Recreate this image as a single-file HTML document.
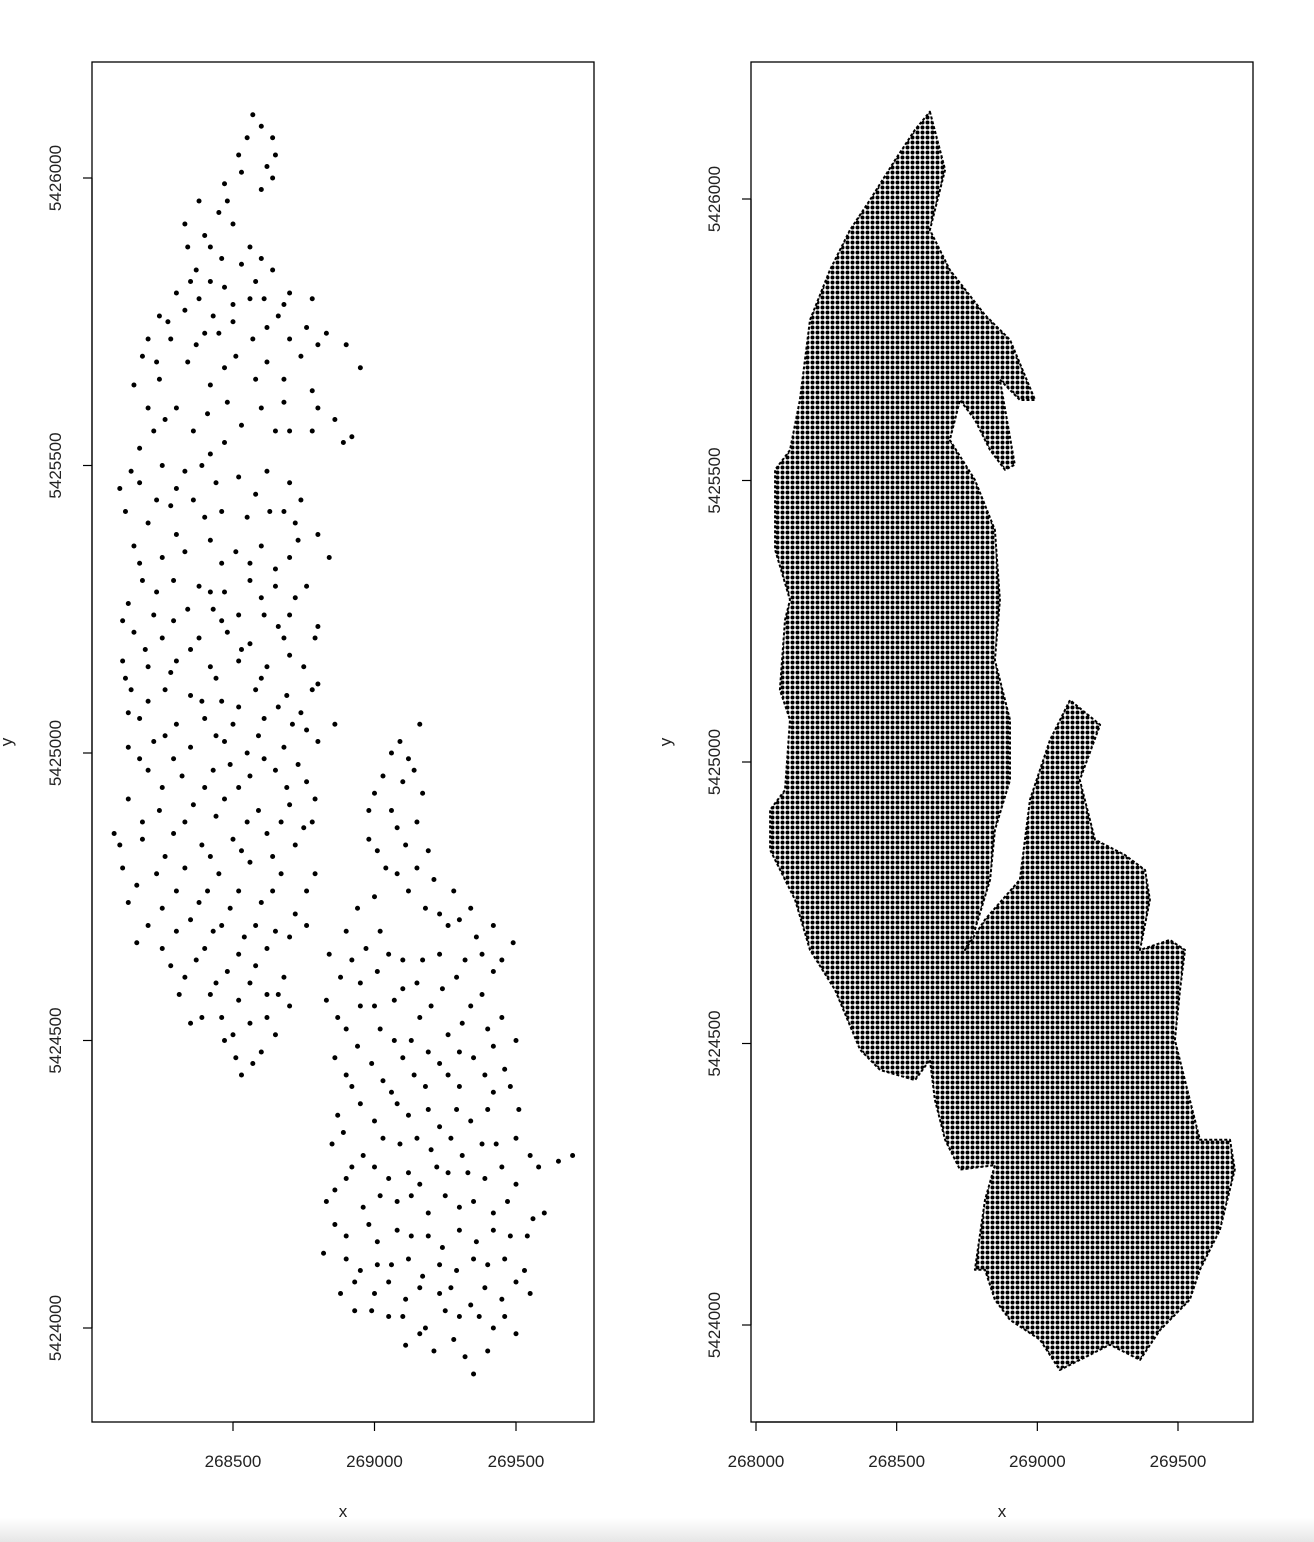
<!DOCTYPE html>
<html><head><meta charset="utf-8"><style>
html,body{margin:0;padding:0;background:#fff}
svg{display:block}
text{font-family:"Liberation Sans",sans-serif;font-size:17px;fill:#222}
</style></head><body>
<svg id="chart" width="1314" height="1542" viewBox="0 0 1314 1542">
<defs>
<pattern id="dots" width="5" height="5" patternUnits="userSpaceOnUse"><circle cx="2.5" cy="2.5" r="2" fill="#000"/></pattern>
<linearGradient id="bar" x1="0" y1="0" x2="0" y2="1"><stop offset="0" stop-color="#fff"/><stop offset="1" stop-color="#e6e6e6"/></linearGradient>
</defs>
<rect x="0" y="1518" width="1314" height="24" fill="url(#bar)"/>
<g id="left"></g>
<g id="right"></g>
</svg>
<script>
const leftXTicks=[268500,269000,269500];
const leftYTicks=[5424000,5424500,5425000,5425500,5426000];
const rightXTicks=[268000,268500,269000,269500];
const rightYTicks=[5424000,5424500,5425000,5425500,5426000];
const leftX=[268570,268600,268640,268650,268520,268530,268640,268470,268600,268380,268450,268500,268330,268420,268340,268460,268530,268370,268640,268420,268580,268300,268380,268470,268560,268610,268700,268780,268240,268330,268430,268500,268660,268760,268830,268200,268280,268370,268450,268570,268700,268900,268180,268340,268510,268620,268740,268950,268150,268240,268420,268580,268680,268780,268200,268300,268480,268600,268800,268860,268220,268360,268530,268700,268890,
268100,268170,268250,268330,268390,268420,268520,268620,268700,268740,268120,268200,268280,268360,268460,268550,268630,268720,268800,268150,268250,268330,268420,268510,268600,268700,268840,268180,268290,268380,268470,268560,268650,268760,268130,268220,268340,268430,268520,268610,268700,268150,268250,268380,268480,268560,268680,268790,268110,268200,268300,268420,268520,268620,268750,268140,268260,268350,268460,268580,268690,268800,268170,268300,268400,268500,268610,268710,268860,268130,268220,268350,268470,268550,268680,268800,268200,268320,268430,268560,268650,268760,268130,268240,268360,268470,268590,268700,268780,268080,268180,268290,268390,268500,268620,268720,268110,268230,268330,268450,268560,268670,268790,268130,268250,268380,268490,268600,268720,268300,268430,268540,268650,268760,268160,268280,268370,268480,268580,268680,268310,268420,268520,268620,268700,268350,268460,268560,268650,268510,268600,268530,
269060,269160,269120,269030,269100,269170,268980,269060,269150,268980,269110,269190,269040,269210,269120,269280,268940,269180,269340,268900,269020,269300,269360,268840,268970,269100,269230,269380,269490,268880,269010,269150,269290,269420,268830,268950,269070,269200,269340,268900,269020,269130,269260,269400,269500,268860,268990,269100,269230,269350,269460,268920,269060,269180,269300,269420,268870,269000,269120,269230,269340,269510,268850,268960,269090,269200,269310,269430,269550,268900,269050,269160,269260,269390,269500,269650,269700,268830,268960,269080,269190,269300,269420,269560,269600,268900,269010,269130,269240,269360,269480,268820,268950,269060,269170,269290,269400,269530,268880,269000,269110,269230,269340,269450,269550,268930,269050,269180,269300,269420,269500,269110,269210,269320,269400,269350,
268550,268620,268480,268560,268400,268600,268350,268500,268680,268270,268400,268620,268800,268230,268470,268680,268260,268410,268650,268780,268170,268470,268920,
268140,268300,268440,268580,268680,268230,268400,268170,268300,268460,268560,268730,268650,268230,268420,268600,268720,268110,268290,268460,268660,268800,268190,268350,268530,268700,268120,268280,268440,268600,268780,268200,268390,268520,268660,268740,268130,268260,268440,268590,268760,268170,268290,268490,268610,268730,268250,268400,268520,268690,268790,268180,268330,268440,268550,268670,268750,268100,268260,268420,268530,268640,268160,268300,268410,268520,268640,268760,268200,268350,268460,268580,268700,268250,268400,268520,268620,268330,268440,268560,268660,268390,268500,268620,268470,268570,
269090,269140,269000,269080,269010,269150,269080,269230,269000,269260,269420,268920,269050,269170,269320,269450,268950,269100,269240,269380,268870,269000,269160,269310,269450,268940,269070,269190,269300,269420,268900,269030,269140,269260,269390,269480,268950,269080,269190,269290,269400,268890,269030,269150,269270,269380,269500,268920,269000,269120,269220,269330,269450,269580,268860,269020,269130,269250,269350,269470,268860,268980,269080,269190,269300,269420,269540,268900,269010,269120,269230,269350,269460,268930,269050,269160,269270,269390,269500,268990,269100,269250,269370,269460,269160,269280];
const leftY=[5426110,5426090,5426070,5426040,5426040,5426010,5426000,5425990,5425980,5425960,5425940,5425920,5425920,5425880,5425880,5425860,5425850,5425840,5425840,5425820,5425820,5425800,5425790,5425810,5425790,5425790,5425800,5425790,5425760,5425770,5425760,5425750,5425760,5425740,5425730,5425720,5425720,5425710,5425730,5425720,5425720,5425710,5425690,5425680,5425690,5425680,5425690,5425670,5425640,5425650,5425640,5425650,5425650,5425630,5425600,5425600,5425610,5425600,5425600,5425580,5425560,5425560,5425570,5425560,5425540,
5425460,5425470,5425500,5425490,5425500,5425520,5425480,5425490,5425470,5425440,5425420,5425400,5425430,5425440,5425420,5425410,5425420,5425400,5425380,5425360,5425340,5425350,5425370,5425350,5425360,5425340,5425340,5425300,5425300,5425290,5425280,5425300,5425290,5425290,5425260,5425240,5425250,5425250,5425240,5425240,5425240,5425210,5425200,5425200,5425210,5425190,5425200,5425200,5425160,5425150,5425160,5425150,5425160,5425150,5425150,5425110,5425110,5425100,5425090,5425110,5425100,5425120,5425060,5425050,5425060,5425050,5425060,5425050,5425050,5425010,5425020,5425010,5425020,5425000,5425010,5425020,5424970,5424960,5424970,5424960,5424970,5424950,5424920,5424900,5424910,5424920,5424900,5424910,5424880,5424860,5424850,5424860,5424840,5424850,5424860,5424840,5424800,5424790,5424800,5424790,5424810,5424790,5424790,5424740,5424730,5424740,5424730,5424740,5424720,5424690,5424690,5424680,5424690,5424700,5424670,5424630,5424640,5424620,5424630,5424610,5424580,5424580,5424570,5424580,5424560,5424530,5424540,5424530,5424510,5424470,5424480,5424440,
5425000,5425050,5424990,5424960,5424950,5424930,5424900,5424900,5424880,5424850,5424840,5424830,5424800,5424780,5424760,5424760,5424730,5424730,5424730,5424690,5424690,5424710,5424680,5424650,5424660,5424640,5424650,5424650,5424670,5424610,5424620,5424600,5424610,5424620,5424570,5424560,5424570,5424560,5424560,5424520,5424520,5424500,5424510,5424520,5424500,5424470,5424460,5424470,5424460,5424470,5424450,5424420,5424410,5424420,5424420,5424410,5424370,5424360,5424370,5424350,5424360,5424380,5424320,5424300,5424320,5424310,5424300,5424320,5424300,5424260,5424260,5424250,5424270,5424260,5424250,5424290,5424300,5424220,5424210,5424220,5424200,5424210,5424200,5424190,5424200,5424160,5424150,5424160,5424140,5424150,5424160,5424130,5424100,5424110,5424090,5424100,5424110,5424100,5424060,5424060,5424050,5424060,5424040,5424050,5424060,5424030,5424020,5424000,5424020,5424000,5423990,5423970,5423960,5423950,5423960,5423920,
5426070,5426020,5425960,5425880,5425900,5425860,5425820,5425780,5425780,5425750,5425730,5425740,5425710,5425680,5425670,5425610,5425580,5425590,5425560,5425560,5425530,5425540,5425550,
5425490,5425460,5425470,5425450,5425420,5425440,5425410,5425330,5425380,5425330,5425330,5425370,5425320,5425280,5425280,5425270,5425270,5425230,5425230,5425230,5425220,5425220,5425180,5425180,5425180,5425170,5425130,5425140,5425130,5425130,5425110,5425090,5425090,5425080,5425080,5425070,5425070,5425030,5425030,5425030,5425040,5424990,5424990,5424980,5424990,5424980,5424940,5424940,5424940,5424940,5424920,5424880,5424880,5424890,5424880,5424880,5424870,5424840,5424820,5424820,5424830,5424820,5424770,5424760,5424760,5424760,5424760,5424760,5424700,5424710,5424700,5424700,5424680,5424660,5424660,5424650,5424660,5424610,5424600,5424600,5424580,5424540,5424510,5424540,5424500,5424460,
5425020,5424970,5424930,5424870,5424830,5424800,5424790,5424720,5424750,5424700,5424700,5424640,5424650,5424640,5424640,5424640,5424600,5424590,5424590,5424580,5424540,5424560,5424540,5424530,5424540,5424490,5424500,5424480,5424480,5424490,5424440,5424430,5424440,5424440,5424440,5424420,5424390,5424390,5424380,5424380,5424380,5424340,5424330,5424330,5424330,5424320,5424330,5424280,5424280,5424270,5424280,5424270,5424280,5424280,5424240,5424230,5424230,5424230,5424220,5424220,5424180,5424180,5424170,5424160,5424170,5424170,5424160,5424120,5424110,5424120,5424110,5424120,5424120,5424080,5424080,5424070,5424070,5424070,5424080,5424030,5424020,5424030,5424020,5424020,5423990,5423980];
const rightOutlineX=[268618,268672,268618,268689,268814,268903,268992,268938,268867,268920,268885,268832,268778,268725,268689,268778,268849,268867,268849,268903,268903,268849,268832,268778,268743,268814,268938,268974,269045,269116,269223,269151,269205,269311,269383,269400,269365,269471,269525,269507,269489,269542,269578,269685,269702,269649,269578,269542,269436,269365,269258,269151,269080,269009,268903,268849,268814,268778,268814,268849,268725,268672,268636,268618,268565,268441,268370,268281,268192,268139,268050,268050,268103,268121,268085,268103,268121,268068,268068,268121,268156,268192,268263,268334,268405,268494,268565];
const rightOutlineY=[5426155,5426052,5425945,5425874,5425794,5425750,5425643,5425643,5425679,5425528,5425519,5425554,5425608,5425643,5425572,5425501,5425412,5425288,5425181,5425075,5424968,5424879,5424791,5424702,5424666,5424720,5424791,5424933,5425039,5425110,5425066,5424968,5424862,5424835,5424808,5424755,5424666,5424684,5424666,5424595,5424506,5424400,5424329,5424329,5424276,5424169,5424098,5424045,5423991,5423938,5423965,5423938,5423920,5423974,5424009,5424045,5424098,5424098,5424222,5424284,5424276,5424329,5424400,5424471,5424435,5424453,5424489,5424595,5424666,5424755,5424844,5424915,5424950,5425075,5425128,5425252,5425288,5425377,5425519,5425554,5425643,5425785,5425874,5425945,5425998,5426069,5426123];

const NS='http://www.w3.org/2000/svg';
function mk(tag,attrs,parent,txt){const e=document.createElementNS(NS,tag);for(const k in attrs)e.setAttribute(k,attrs[k]);if(txt!==undefined)e.textContent=txt;parent.appendChild(e);return e;}
function axisFn(d0,p0,d1,p1){return v=>p0+(v-d0)*(p1-p0)/(d1-d0);}

function frame(g,box,sx,sy,xt,yt,ylabX){
  const f=mk('rect',{x:box.x0,y:box.y0,width:box.x1-box.x0,height:box.y1-box.y0,fill:'none',stroke:'#000','stroke-width':1.3},g);
  
  
  const xa=mk('g',{},g);
  
  
  mk('line',{x1:sx(xt[0]),x2:sx(xt[xt.length-1]),y1:box.y1,y2:box.y1,stroke:'#000','stroke-width':1.2},xa);
  xt.forEach(v=>{mk('line',{x1:sx(v),x2:sx(v),y1:box.y1,y2:box.y1+9,stroke:'#000','stroke-width':1.2},xa);
    const t=mk('text',{x:sx(v),y:box.y1+45,'text-anchor':'middle'},xa,String(v));
    
    });
  const xl=mk('text',{x:(box.x0+box.x1)/2,y:1517,'text-anchor':'middle'},g,'x');
  
  
  const ya=mk('g',{},g);
  
  
  mk('line',{x1:box.x0,x2:box.x0,y1:sy(yt[0]),y2:sy(yt[yt.length-1]),stroke:'#000','stroke-width':1.2},ya);
  yt.forEach(v=>{const y=sy(v);mk('line',{x1:box.x0-9,x2:box.x0,y1:y,y2:y,stroke:'#000','stroke-width':1.2},ya);
    const lx=box.x0-31;
    const t=mk('text',{x:lx,y:y,'text-anchor':'middle',transform:`rotate(-90 ${lx} ${y})`},ya,String(v));
    
    });
  const yl=mk('text',{x:ylabX,y:742,'text-anchor':'middle',transform:`rotate(-90 ${ylabX} 742)`},g,'y');
  
  
}

// left
const L=document.getElementById('left');
const lsx=axisFn(268500,233,269500,516), lsy=axisFn(5426000,178,5424000,1328);
frame(L,{x0:92,y0:62,x1:594,y1:1422},lsx,lsy,leftXTicks,leftYTicks,12);
leftX.forEach((v,i)=>{const c=mk('circle',{cx:lsx(v),cy:lsy(leftY[i]),r:2.5,fill:'#000'},L);
  
  });

// right
const R=document.getElementById('right');
const rsx=axisFn(268000,756,269500,1178), rsy=axisFn(5426000,199,5424000,1325);
frame(R,{x0:751,y0:62,x1:1253,y1:1422},rsx,rsy,rightXTicks,rightYTicks,671);
const pts=rightOutlineX.map((v,i)=>rsx(v).toFixed(1)+','+rsy(rightOutlineY[i]).toFixed(1)).join(' ');
const poly=mk('polygon',{points:pts,fill:'url(#dots)',stroke:'#000','stroke-width':2,'stroke-dasharray':'3 2','stroke-linejoin':'round'},R);


</script>
</body></html>
